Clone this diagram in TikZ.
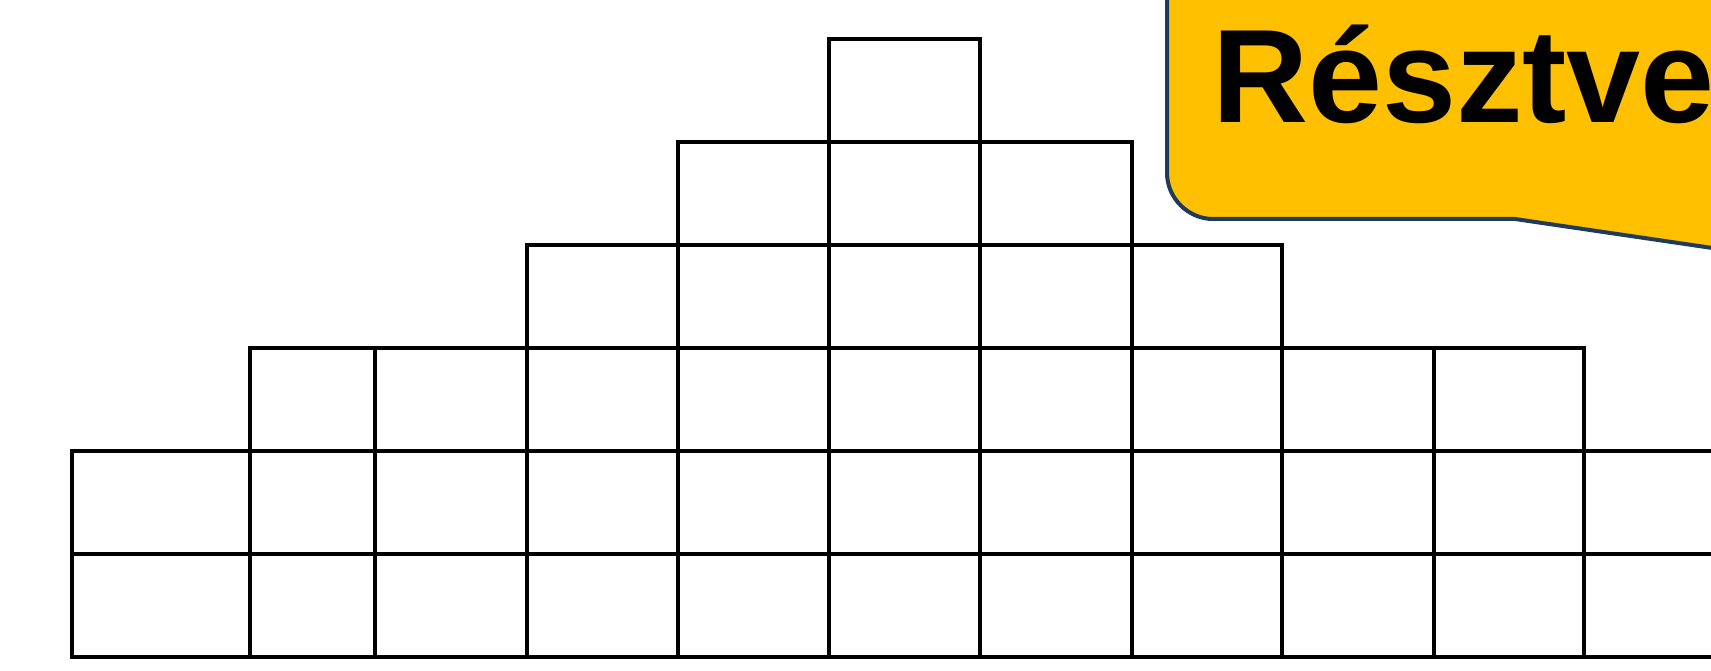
\documentclass[tikz,border=0pt]{standalone}
\usepackage{fontspec}
\newfontfamily\calloutfont{Liberation Sans}
\definecolor{calloutyellow}{HTML}{FFC000}
\definecolor{calloutnavy}{HTML}{1F3A5A}
\tikzset{
  gridline/.style={line width=3.8pt, black, line cap=rect},
  bubble/.style={fill=calloutyellow, draw=calloutnavy, line width=4pt, line join=round}
}
\begin{document}
\begin{tikzpicture}[x=1pt,y=-1pt]
  \useasboundingbox (0,0) rectangle (1711,671);
  \clip (0,0) rectangle (1711,671);
  % Horizontal lines of the staircase
  \foreach \y/\a/\b in {39/829/980, 142/678/1132, 245/527/1282, 348/250/1584,
                        451/72/1730, 554/72/1730, 657/72/1730}
    \draw[gridline] (\a,\y) -- (\b,\y);
  % Vertical lines, each down to the base
  \foreach \x/\t in {72/451, 250/348, 375/348, 527/245, 678/142, 829/39,
                     980/39, 1132/142, 1282/245, 1434/348, 1584/348}
    \draw[gridline] (\x,\t) -- (\x,657);
  % Speech bubble
  \draw[bubble] (1167,-20) -- (1167,173) .. controls (1167,198) and (1188,219) .. (1213,219)
    -- (1515,219) -- (1760,255) -- (1760,-20) -- cycle;
  \node[anchor=base west, inner sep=0pt, font=\calloutfont\bfseries\fontsize{133}{133}\selectfont]
    (title) at (1212,123) {Résztve};
\end{tikzpicture}
\end{document}
